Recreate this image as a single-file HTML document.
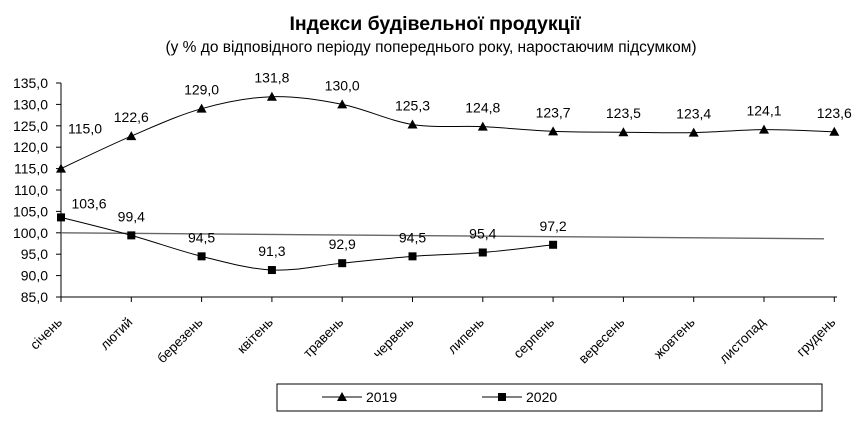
<!DOCTYPE html>
<html><head><meta charset="utf-8"><style>
body{margin:0;background:#fff;}
svg{font-family:"Liberation Sans","DejaVu Sans",sans-serif;}
</style></head><body>
<svg id="c" width="862" height="424" xmlns="http://www.w3.org/2000/svg">
<text x="435" y="30" text-anchor="middle" font-size="19.5" font-weight="bold">Індекси будівельної продукції</text>
<text x="431" y="52" text-anchor="middle" font-size="15.5">(у % до відповідного періоду попереднього року, наростаючим  підсумком)</text>
<g id="plot"></g>
<rect x="277" y="384" width="545" height="27" fill="none" stroke="#000"/>
<g>
<line x1="322" y1="397" x2="362" y2="397" stroke="#000"/><path d="M342,392 L347,401 L337,401Z"/>
<text x="366" y="402" font-size="14">2019</text></g>
<g>
<line x1="482" y1="397" x2="522" y2="397" stroke="#000"/><rect x="498" y="393" width="8" height="8"/>
<text x="526" y="402" font-size="14">2020</text></g>
</svg>
<script>
const categories=["січень","лютий","березень","квітень","травень","червень","липень","серпень","вересень","жовтень","листопад","грудень"];
const series2019=[115.0,122.6,129.0,131.8,130.0,125.3,124.8,123.7,123.5,123.4,124.1,123.6];
const series2020=[103.6,99.4,94.5,91.3,92.9,94.5,95.4,97.2];
const refLine=[100.0,98.6];
const yTicks=[85,90,95,100,105,110,115,120,125,130,135];
const NS="http://www.w3.org/2000/svg";
const g=document.getElementById('plot');
const x0=61,step=70.3,yb=297,ppu=4.28;
const X=i=>x0+i*step, Y=v=>yb-(v-85)*ppu;
function el(t,a,p){const e=document.createElementNS(NS,t);for(const k in a)e.setAttribute(k,a[k]);(p||g).appendChild(e);return e;}
const fmt=v=>v.toFixed(1).replace('.',',');
let ax=el('path',{d:`M${x0},${Y(135)}V${yb}H${837}`,stroke:'#000',fill:'none'});


yTicks.forEach(v=>{el('line',{x1:x0-5,x2:x0,y1:Y(v),y2:Y(v),stroke:'#000'});
 const t=el('text',{x:x0-13,y:Y(v)+5,'text-anchor':'end','font-size':14});t.textContent=fmt(v);
 
 });
categories.forEach((c,i)=>{el('line',{x1:X(i),x2:X(i),y1:yb,y2:yb+5,stroke:'#000'});
 const t=el('text',{transform:`translate(${X(i)+2},${yb+26}) rotate(-45)`,'text-anchor':'end','font-size':13.5});t.textContent=c;
 
 });
let rl=el('line',{x1:X(0),y1:Y(refLine[0]),x2:824,y2:Y(refLine[1]),stroke:'#666','stroke-width':1.3});


function smooth(vals){const p=vals.map((v,i)=>[X(i),Y(v)]);let d=`M${p[0][0]},${p[0][1]}`;
 for(let i=0;i<p.length-1;i++){const a=p[i-1]||p[i],b=p[i],c=p[i+1],e=p[i+2]||c;
 d+=`C${b[0]+(c[0]-a[0])/6},${b[1]+(c[1]-a[1])/6} ${c[0]-(e[0]-b[0])/6},${c[1]-(e[1]-b[1])/6} ${c[0]},${c[1]}`;}return d;}
let l1=el('path',{d:smooth(series2019),stroke:'#000',fill:'none'});


let l2=el('path',{d:smooth(series2020),stroke:'#000',fill:'none'});


series2019.forEach((v,i)=>{const x=X(i),y=Y(v);
 const m=el('path',{d:`M${x},${y-5}L${x+5},${y+4}L${x-5},${y+4}Z`});
 
 
 const dx=i===0?24:0;
 const t=el('text',{x:x+dx,y:y-(i===0?35:14),'text-anchor':'middle','font-size':14});t.textContent=fmt(v);
 
 });
series2020.forEach((v,i)=>{const x=X(i),y=Y(v);
 const m=el('rect',{x:x-4,y:y-4,width:8,height:8});
 
 
 const dx=i===0?28:0;
 const t=el('text',{x:x+dx,y:y-(i===0?9:14),'text-anchor':'middle','font-size':14});t.textContent=fmt(v);
 
 });
</script>
</body></html>
